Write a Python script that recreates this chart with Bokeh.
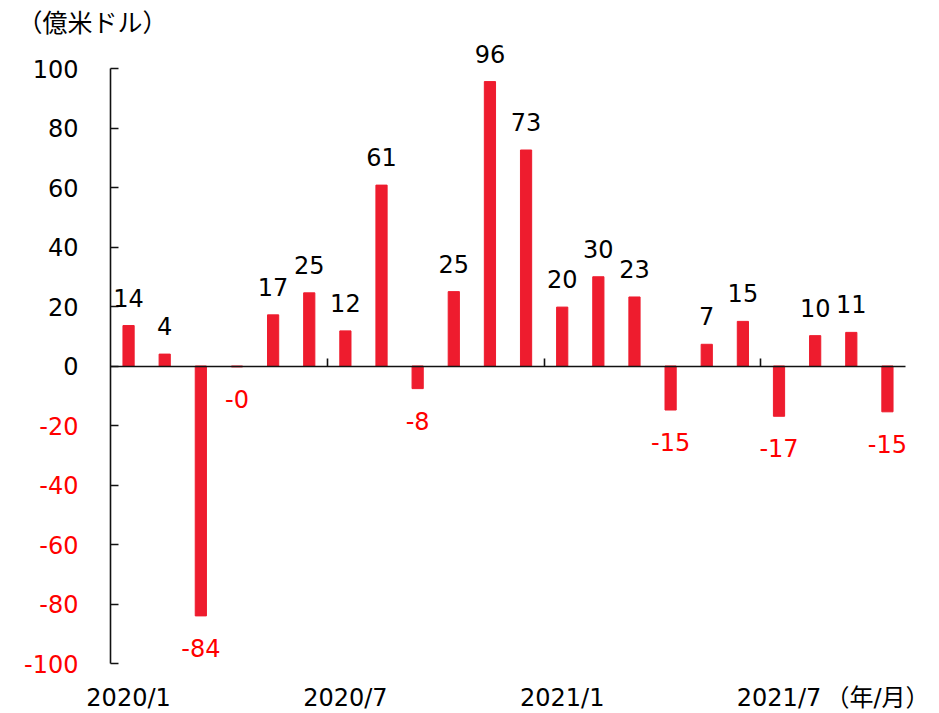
from bokeh.plotting import figure
from bokeh.models import (ColumnDataSource, LabelSet, Label, FixedTicker, Range1d,
                          LinearAxis)
from bokeh.core.properties import value
from bokeh.embed import file_html
from bokeh.resources import INLINE

# ---- data ----
months = ["2020/1", "2020/2", "2020/3", "2020/4", "2020/5", "2020/6",
          "2020/7", "2020/8", "2020/9", "2020/10", "2020/11", "2020/12",
          "2021/1", "2021/2", "2021/3", "2021/4", "2021/5", "2021/6",
          "2021/7", "2021/8", "2021/9", "2021/10"]
values = [13.6, 4.0, -84.0, -0.3, 17.2, 24.6, 11.8, 60.8, -7.6, 25.0, 95.6,
          72.6, 19.8, 30.0, 23.2, -14.8, 7.3, 15.0, -16.9, 10.2, 11.3, -15.4]
x_tick_months = ["2020/1", "2020/7", "2021/1", "2021/7"]
unit_x_label = "（年/月）"
y_title = "（億米ドル）"
y_ticks = [-100, -80, -60, -40, -20, 0, 20, 40, 60, 80, 100]

FONT = "DejaVu Sans"
CJK = "Noto Sans CJK JP"
BAR = "#EE1C2E"
RED = "#FF0000"
INK = "#111111"
FS = "24px"

n = len(months)
xs = [i + 0.5 for i in range(n)]
labels = [f"{v:.0f}" for v in values]

pos = ColumnDataSource(dict(x=[x for x, v in zip(xs, values) if v >= 0],
                            y=[v for v in values if v >= 0],
                            t=[l for l, v in zip(labels, values) if v >= 0]))
neg = ColumnDataSource(dict(x=[x for x, v in zip(xs, values) if v < 0],
                            y=[v for v in values if v < 0],
                            t=[l for l, v in zip(labels, values) if v < 0]))

# frame = whole canvas; ranges chosen so that the axes sit where the reference has them
W, H = 939, 713
px_x = 795 / n          # pixels per month
px_y = 595 / 200        # pixels per unit
x0 = -110 / px_x
y0 = -100 - (H - 663) / px_y
p = figure(width=W, height=H, output_backend="svg", toolbar_location=None,
           x_range=Range1d(x0, x0 + W / px_x), y_range=Range1d(y0, y0 + H / px_y),
           x_axis_location=None, y_axis_location=None,
           min_border_left=0, min_border_right=0, min_border_top=0,
           min_border_bottom=0)
p.outline_line_color = None
p.background_fill_color = "white"
p.xgrid.grid_line_color = None
p.ygrid.grid_line_color = None

p.vbar(x=xs, top=values, bottom=0, width=0.31, color=BAR)

# y axis at x = 0
ya = LinearAxis(fixed_location=0, ticker=FixedTicker(ticks=y_ticks), bounds=(-100, 100))
ya.major_tick_in = 8
ya.major_tick_out = 0
ya.minor_tick_line_color = None
ya.axis_line_width = 1.6
ya.major_tick_line_width = 1.6
ya.axis_line_color = INK
ya.major_tick_line_color = INK
ya.major_label_standoff = 32
ya.major_label_text_font = FONT
ya.major_label_text_font_size = FS
ya.major_label_text_color = "black"
ya.major_label_overrides = {t: ("" if t < 0 else str(t)) for t in y_ticks}
p.add_layout(ya, "left")

# zero line with tick marks every six months
bounds = [i for i, m in enumerate(months) if i > 0 and (m.endswith("/1") or m.endswith("/7"))]
xa = LinearAxis(fixed_location=0, ticker=FixedTicker(ticks=bounds), bounds=(0, n))
xa.major_tick_in = 8
xa.major_tick_out = 0
xa.minor_tick_line_color = None
xa.axis_line_width = 1.6
xa.major_tick_line_width = 1.6
xa.axis_line_color = INK
xa.major_tick_line_color = INK
xa.major_label_overrides = {b: "" for b in bounds}
xa.major_label_text_font_size = "1px"
p.add_layout(xa, "below")

# negative y tick labels in red
negticks = ColumnDataSource(dict(x=[0] * len([t for t in y_ticks if t < 0]),
                                 y=[t for t in y_ticks if t < 0],
                                 t=[str(t) for t in y_ticks if t < 0]))
p.add_layout(LabelSet(x="x", y="y", text="t", source=negticks, x_offset=-32,
                      text_align="right", text_baseline="middle",
                      text_font=value(FONT), text_font_size=value(FS),
                      text_color=RED))

# month labels under the chart
mlab = ColumnDataSource(dict(x=[xs[months.index(m)] for m in x_tick_months],
                             y=[-100] * len(x_tick_months), t=x_tick_months))
p.add_layout(LabelSet(x="x", y="y", text="t", source=mlab, y_offset=-20,
                      text_align="center", text_baseline="top",
                      text_font=value(FONT), text_font_size=value(FS),
                      text_color="black"))
p.add_layout(Label(x=xs[-1], y=-100, x_offset=-10, y_offset=-20, text=unit_x_label,
                   text_align="center", text_baseline="top",
                   text_font=FONT + ", " + CJK, text_font_size=FS, text_color="black"))

# value labels
p.add_layout(LabelSet(x="x", y="y", text="t", source=pos, y_offset=19,
                      text_align="center", text_baseline="alphabetic",
                      text_font=value(FONT), text_font_size=value(FS),
                      text_color="black"))
p.add_layout(LabelSet(x="x", y="y", text="t", source=neg, y_offset=-23,
                      text_align="center", text_baseline="top",
                      text_font=value(FONT), text_font_size=value(FS),
                      text_color=RED))

# unit title
p.add_layout(Label(x=0, y=100, x_offset=-93, y_offset=66, text=y_title,
                   text_align="left", text_baseline="top",
                   text_font=CJK, text_font_size="25px", text_color="black"))

open("out.html", "w").write(file_html(p, INLINE))
